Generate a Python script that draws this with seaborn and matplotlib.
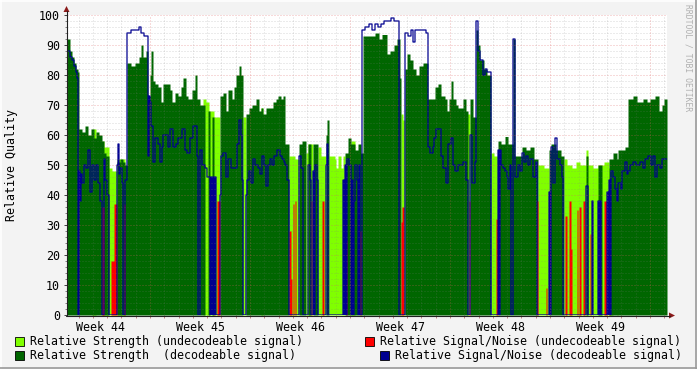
import numpy as np
import pandas as pd
import matplotlib
matplotlib.use("Agg")
import matplotlib.pyplot as plt
import seaborn as sns
from matplotlib.patches import Rectangle, Polygon
from matplotlib.lines import Line2D

# ---------------- data (one consolidated sample per time step) ----------------
N_SAMPLES = 600
week_labels = ["Week 44", "Week 45", "Week 46", "Week 47", "Week 48", "Week 49"]
week_label_pos = [33, 133, 233, 333, 433, 533]      # sample index of mid-week
week_bounds = [83, 183, 283, 383, 483, 583]          # sample index of week start
samples_per_day = 100 / 7
y_ticks = [0, 10, 20, 30, 40, 50, 60, 70, 80, 90, 100]

# Relative Strength (decodeable) : run starts / values
dg_start = [0, 3, 5, 7, 9, 11, 12, 15, 18, 21, 24, 27, 29, 32, 35, 37, 39, 42, 50, 53, 56, 58,
            60, 64, 68, 72, 74, 76, 79, 81, 83, 84, 86, 88, 91, 94, 96, 103, 105, 108, 111, 114,
            116, 119, 121, 125, 128, 130, 133, 138, 141, 143, 145, 147, 153, 156, 159, 161, 165,
            167, 169, 172, 174, 176, 179, 182, 185, 189, 192, 194, 196, 199, 206, 209, 211, 214,
            216, 218, 222, 232, 235, 239, 241, 244, 246, 251, 259, 260, 262, 278, 281, 284, 288,
            291, 294, 296, 308, 312, 315, 320, 323, 327, 330, 333, 334, 338, 340, 343, 346, 349,
            352, 356, 361, 368, 371, 374, 378, 380, 382, 384, 386, 389, 391, 396, 399, 401, 403,
            406, 409, 411, 413, 417, 420, 424, 431, 434, 438, 441, 446, 448, 455, 459, 463, 467,
            471, 482, 484, 489, 494, 497, 519, 521, 531, 535, 542, 546, 550, 551, 558, 561, 566,
            570, 576, 580, 583, 588, 592, 595, 597]
dg_val = [92, 88, 86, 84, 82, 81, 62, 61, 63, 60, 62, 59, 61, 60, 58, 54, 53, 0, 51, 52, 51, 50,
          84, 83, 84, 86, 90, 86, 88, 73, 80, 88, 78, 77, 76, 71, 77, 75, 71, 74, 73, 76,
          79, 73, 72, 75, 80, 72, 70, 0, 68, 0, 66, 0, 73, 74, 68, 75, 72,
          76, 80, 83, 80, 0, 67, 69, 70, 72, 68, 69, 67, 69, 71, 72, 73, 72,
          73, 57, 0, 57, 58, 0, 57, 0, 57, 0, 60, 65, 0, 54, 59, 57, 55,
          57, 54, 93, 94, 92, 93.5, 87, 88, 90, 92, 79, 0, 82, 87, 85, 82, 80,
          83, 84, 72, 76, 77, 73, 72, 68, 72, 78, 72, 70, 69, 72, 68, 0, 72,
          66, 95, 90, 85, 82, 80, 0, 58, 57, 59.5, 57, 92, 53, 56, 55, 56, 52,
          0, 55, 57, 55, 53, 0, 53, 0, 50, 0, 52, 54, 52, 55, 56, 72, 73,
          71, 72, 71, 72, 73, 68, 70, 72]

# Relative Strength (undecodeable)
lg_start = [0, 25, 29, 35, 37, 42, 45, 50, 58, 136, 139, 142, 147, 153, 176, 179, 194, 196,
            222, 228, 232, 239, 241, 246, 251, 254, 259, 262, 268, 269, 271, 274, 276, 278,
            284, 288, 334, 336, 338, 400, 403, 424, 427, 431, 471, 477, 482, 497, 500, 505,
            509, 513, 519, 521, 526, 531, 537, 542, 546, 550, 551]
lg_val = [0, 62, 0, 58, 56, 49, 48, 52, 0, 72, 71, 68, 66, 0, 66, 0, 69, 0,
          53, 52, 0, 54, 57, 0, 56, 53, 0, 53, 52, 49, 53, 49, 53, 0,
          58, 0, 67, 65, 0, 67, 0, 54, 53, 0, 50, 49, 0, 52, 50, 49,
          51, 50, 55, 50, 49, 50, 51, 49, 0, 52, 0]

# Relative Signal/Noise (undecodeable)
red_start = [0, 35, 37, 44, 47, 50, 57, 58, 147, 148, 150, 153, 222, 224, 225, 226, 227, 228,
             229, 244, 245, 255, 257, 279, 280, 293, 294, 334, 335, 337, 402, 403, 429, 431,
             470, 471, 479, 480, 498, 500, 502, 504, 505, 510, 511, 512, 514, 516, 518, 523,
             524, 537, 540, 542, 543]
red_val = [0, 36, 0, 18, 37, 0, 37, 0, 40, 0, 38, 0, 28, 12, 0, 37, 0, 38,
           0, 38, 0, 38, 0, 25, 0, 28, 0, 31, 36, 0, 38, 0, 32, 0,
           38, 0, 9, 0, 33, 0, 38, 22, 0, 35, 0, 36, 0, 38, 0, 27,
           0, 38, 0, 42, 0]

# Relative Signal/Noise (decodeable)
blue_start = [0, 3, 5, 7, 9, 10, 11, 12, 13, 14, 15, 17, 19, 21, 23, 25, 27, 29, 31, 33, 35, 37,
              38, 40, 42, 50, 51, 52, 53, 55, 56, 58, 60, 64, 72, 74, 77, 81, 82, 83, 84, 86, 88,
              91, 93, 95, 96, 101, 103, 106, 109, 111, 115, 118, 120, 123, 126, 130, 131, 133,
              135, 138, 140, 143, 144, 145, 146, 147, 148, 149, 153, 154, 156, 159, 161, 164,
              170, 172, 174, 175, 176, 179, 180, 182, 184, 186, 188, 191, 193, 195, 197, 199,
              201, 203, 205, 207, 210, 213, 215, 217, 218, 220, 222, 232, 234, 236, 241, 243,
              244, 246, 247, 248, 250, 251, 259, 260, 261, 276, 277, 278, 279, 280, 282, 284,
              285, 286, 287, 288, 290, 291, 292, 293, 295, 298, 302, 305, 308, 311, 314, 317,
              324, 327, 332, 338, 341, 344, 346, 348, 359, 361, 363, 366, 367, 369, 374, 376,
              379, 381, 384, 386, 388, 391, 396, 399, 401, 403, 405, 408, 409, 411, 413, 416,
              418, 420, 424, 431, 432, 433, 434, 436, 438, 440, 441, 443, 444, 446, 448, 451,
              453, 455, 457, 459, 461, 463, 466, 469, 470, 482, 483, 484, 486, 488, 490, 493,
              495, 496, 519, 521, 525, 526, 531, 532, 533, 534, 540, 541, 542, 543, 544, 546,
              548, 550, 551, 554, 555, 558, 560, 561, 563, 566, 569, 573, 576, 578, 581, 584,
              586, 588, 590, 593, 595]
blue_val = [88, 86, 85, 83, 81, 79, 0, 48, 38, 47, 44, 50, 49, 55, 41, 50, 45, 50, 44, 38, 0, 52,
            45, 40, 0, 50, 57, 47, 49, 44, 0, 45, 94, 95, 96, 94, 93, 53, 73, 71, 63, 51, 59,
            57, 51, 56, 60, 56, 62, 56, 57, 59, 62, 55, 54, 59, 63, 53, 0, 55,
            50, 49, 46, 0, 46, 0, 46, 0, 46, 0, 40, 53, 54, 46, 52, 49,
            57, 65, 60, 45, 0, 40, 45, 48, 44, 52, 50, 49, 47, 53, 50, 43,
            50, 52, 50, 53, 55, 53, 52, 51, 50, 45, 0, 53, 49, 0, 50, 45,
            0, 48, 0, 50, 45, 0, 50, 57, 0, 45, 0, 50, 0, 52, 50, 0,
            45, 0, 38, 50, 45, 0, 50, 0, 95, 96, 97, 95, 97, 96, 97, 98,
            99, 98, 0, 94, 93, 95, 91, 95, 94, 56, 54, 56, 59, 62, 53, 49,
            44, 57, 59, 50, 48, 50, 51, 45, 0, 60, 44, 51, 98, 88, 85, 80,
            82, 81, 0, 55, 0, 55, 50, 49, 48, 46, 42, 50, 0, 92, 46, 50,
            48, 54, 51, 53, 50, 52, 46, 51, 0, 41, 0, 56, 44, 59, 52, 50,
            46, 0, 43, 0, 38, 0, 38, 0, 38, 0, 41, 0, 45, 0, 48, 46,
            42, 38, 44, 42, 48, 51, 47, 48, 50, 51, 50, 51, 49, 52, 53, 50,
            53, 46, 50, 49, 52]


def expand(starts, vals):
    starts = np.asarray(starts)
    lens = np.diff(np.append(starts, N_SAMPLES))
    out = np.repeat(np.asarray(vals, dtype=float), lens)
    return np.append(out, out[-1])


t = np.arange(N_SAMPLES + 1)
df = pd.DataFrame({
    "t": t,
    "lg": expand(lg_start, lg_val),
    "dg": expand(dg_start, dg_val),
    "red": expand(red_start, red_val),
    "blue": expand(blue_start, blue_val),
})

# ---------------- styling ----------------
sns.set_style("white")
plt.rcParams["font.family"] = ["DejaVu Sans Mono"]
FS = 8.4
W, H = 697, 369
C_LG, C_DG, C_RED, C_BLUE = "#80FF00", "#006600", "#FF0000", "#000090"

fig = plt.figure(figsize=(W / 100, H / 100), dpi=100, facecolor="#F3F3F3")
ax = fig.add_axes([67 / W, 54 / H, 600 / W, 300 / H])
ax.set_facecolor("white")

ax.fill_between(df["t"], df["lg"], step="post", color=C_LG, lw=0, zorder=1, antialiased=False)
ax.fill_between(df["t"], df["dg"], step="post", color=C_DG, lw=0, zorder=2, antialiased=False)
ax.fill_between(df["t"], df["red"], step="post", color=C_RED, lw=0, zorder=3, antialiased=False)
sns.lineplot(data=df, x="t", y="blue", drawstyle="steps-post", color=C_BLUE,
             lw=0.9, ax=ax, zorder=4, estimator=None, sort=False)

ax.set_xlim(0, N_SAMPLES)
ax.set_ylim(0, 100)

# grid (drawn over data, semi-transparent as in rrdtool)
dots = (0, (1, 2))
for v in range(2, 100, 2):
    if v % 10:
        ax.axhline(v, color="#808080", alpha=0.3, lw=0.72, ls=dots, zorder=5)
for v in y_ticks[1:]:
    ax.axhline(v, color="#E06060", alpha=0.45, lw=0.72, ls=dots, zorder=5)
day_lines = np.arange(week_bounds[0] - 5 * samples_per_day, N_SAMPLES, samples_per_day)
for d in day_lines:
    if d > 0.5 and min(abs(d - b) for b in week_bounds) > 1:
        ax.axvline(d, color="#808080", alpha=0.3, lw=0.72, ls=dots, zorder=5)
for b in week_bounds:
    ax.axvline(b, color="#E06060", alpha=0.45, lw=0.72, ls=dots, zorder=5)

# ticks
ax.set_yticks(y_ticks)
ax.set_yticklabels([str(v) for v in y_ticks], fontsize=FS, color="#000000")
ax.set_yticks(np.arange(0, 101, 2), minor=True)
ax.tick_params(axis="y", which="major", length=2.5, width=0.7, pad=2.5, color="#404040", left=True)
ax.tick_params(axis="y", which="minor", length=1.5, width=0.7, color="#808080", left=True)
ax.set_xticks(week_label_pos)
ax.set_xticklabels(week_labels, fontsize=FS, color="#000000")
ax.tick_params(axis="x", which="major", length=0, pad=4)
ax.set_xticks([d for d in day_lines if d > 0], minor=True)
ax.tick_params(axis="x", which="minor", length=2, width=0.7, color="#C08080", bottom=True)
ax.set_xlabel("")
ax.set_ylabel("")
for s in ax.spines.values():
    s.set_visible(False)

# axes lines with arrows
axc = "#202020"
fig.add_artist(Line2D([66.5 / W, 66.5 / W], [1 - 315 / H, 1 - 11 / H], color=axc, lw=0.8))
fig.add_artist(Line2D([66 / W, 670 / W], [1 - 315.5 / H, 1 - 315.5 / H], color=axc, lw=0.8))
arrow_c = "#8B1A1A"
fig.add_artist(Polygon([[63.5 / W, 1 - 12 / H], [69.5 / W, 1 - 12 / H], [66.5 / W, 1 - 6 / H]],
                       closed=True, transform=fig.transFigure, color=arrow_c, lw=0))
fig.add_artist(Polygon([[669 / W, 1 - 312.5 / H], [669 / W, 1 - 318.5 / H], [675 / W, 1 - 315.5 / H]],
                       closed=True, transform=fig.transFigure, color=arrow_c, lw=0))

# labels
fig.text(12 / W, 1 - 165 / H, "Relative Quality", rotation=90, ha="center", va="center",
         fontsize=FS, color="#000000")
fig.text(688 / W, 1 - 4 / H, "RRDTOOL / TOBI OETIKER", rotation=270, ha="center", va="top",
         fontsize=5.8, color="#B0B0B0")

# legend
legend_items = [
    (15, 341, C_LG, 30, "Relative Strength (undecodeable signal)"),
    (365, 341, C_RED, 380, "Relative Signal/Noise (undecodeable signal)"),
    (15, 355, C_DG, 30, "Relative Strength  (decodeable signal)"),
    (380, 355, C_BLUE, 395, "Relative Signal/Noise (decodeable signal)"),
]
for mx, my, col, tx, label in legend_items:
    fig.add_artist(Rectangle((mx / W, 1 - (my + 4.5) / H), 9 / W, 9 / H, transform=fig.transFigure,
                             facecolor=col, edgecolor="#000000", lw=0.6))
    fig.text(tx / W, 1 - my / H, label, ha="left", va="center", fontsize=FS, color="#000000")

# outer 3d frame
fig.add_artist(Line2D([0, 1], [1 - 0.5 / H, 1 - 0.5 / H], color="white", lw=1.2))
fig.add_artist(Line2D([0.5 / W, 0.5 / W], [0, 1], color="white", lw=1.2))
fig.add_artist(Line2D([0, 1], [1.5 / H, 1.5 / H], color="#9A9A9A", lw=1.2))
fig.add_artist(Line2D([1 - 1.5 / W, 1 - 1.5 / W], [0, 1], color="#9A9A9A", lw=1.2))

fig.savefig("out.png", dpi=100, facecolor=fig.get_facecolor())
